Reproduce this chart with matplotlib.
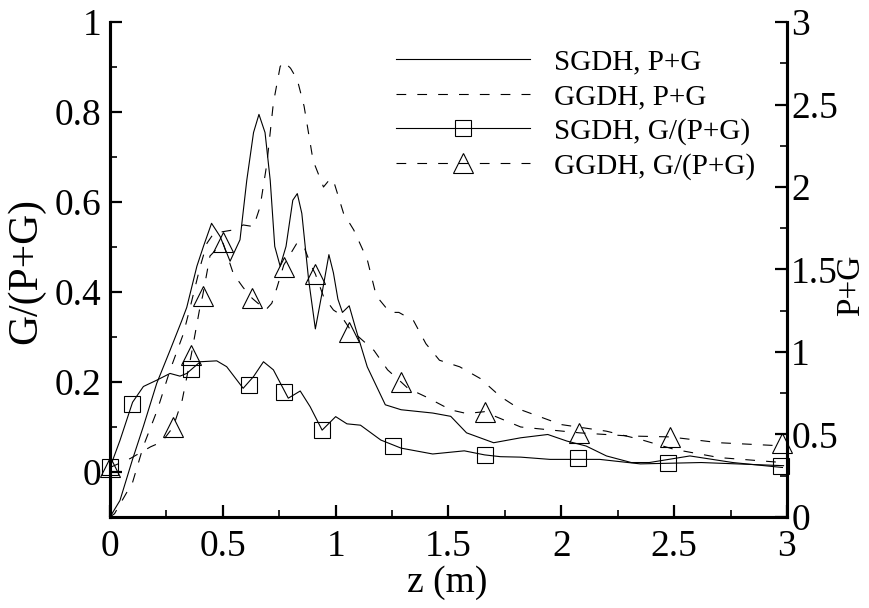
import matplotlib
matplotlib.use('Agg')
import matplotlib.pyplot as plt
from matplotlib.lines import Line2D

plt.rcParams['font.family'] = ['Liberation Serif', 'DejaVu Serif']
plt.rcParams['lines.scale_dashes'] = False

# SGDH, P+G (right axis)
z_sgdh_pg = [0, 0.044, 0.10, 0.148, 0.207, 0.266, 0.318, 0.34, 0.385, 0.414, 0.45, 0.488,
             0.532, 0.576, 0.606, 0.636, 0.66, 0.687, 0.71, 0.73, 0.754, 0.78, 0.81, 0.83,
             0.85, 0.88, 0.91, 0.94, 0.97, 0.99, 1.01, 1.03, 1.06, 1.087, 1.10, 1.14, 1.22,
             1.29, 1.43, 1.51, 1.58, 1.70, 1.82, 1.94, 2.025, 2.11, 2.20, 2.31, 2.39, 2.57,
             2.76, 2.98]
pg_sgdh = [0, 0.10, 0.35, 0.55, 0.81, 1.01, 1.19, 1.27, 1.52, 1.64, 1.78, 1.70,
           1.55, 1.68, 2.04, 2.33, 2.44, 2.33, 2.04, 1.64, 1.52, 1.64, 1.92, 1.96,
           1.84, 1.44, 1.14, 1.36, 1.59, 1.48, 1.32, 1.24, 1.28, 1.15, 1.09, 0.91, 0.68,
           0.65, 0.63, 0.61, 0.51, 0.45, 0.48, 0.50, 0.46, 0.43, 0.37, 0.33, 0.33, 0.37,
           0.33, 0.30]

# GGDH, P+G (right axis)
z_ggdh_pg = [0, 0.02, 0.10, 0.148, 0.21, 0.266, 0.325, 0.355, 0.40, 0.43, 0.46, 0.547,
             0.59, 0.636, 0.665, 0.695, 0.724, 0.754, 0.77, 0.80, 0.83, 0.86, 0.90, 0.946,
             0.976, 0.99, 1.035, 1.08, 1.14, 1.18, 1.24, 1.28, 1.345, 1.40, 1.46, 1.55,
             1.64, 1.73, 1.82, 2.0, 2.2, 2.35, 2.5, 2.7, 2.98]
pg_ggdh = [0, 0.02, 0.21, 0.43, 0.65, 0.89, 1.11, 1.27, 1.52, 1.66, 1.72, 1.74,
           1.77, 1.76, 1.88, 2.14, 2.51, 2.73, 2.76, 2.72, 2.65, 2.49, 2.16, 2.0,
           2.05, 2.04, 1.84, 1.74, 1.56, 1.34, 1.24, 1.24, 1.19, 1.05, 0.95, 0.91,
           0.84, 0.73, 0.65, 0.56, 0.52, 0.47, 0.41, 0.36, 0.33]

# SGDH, G/(P+G) (left axis)
z_sgdh_g = [0, 0.044, 0.10, 0.148, 0.207, 0.266, 0.31, 0.34, 0.40, 0.473, 0.517, 0.59,
            0.636, 0.68, 0.724, 0.79, 0.843, 0.887, 0.94, 1.0, 1.05, 1.11, 1.20, 1.29,
            1.43, 1.57, 1.66, 1.73, 1.82, 1.95, 2.17, 2.35, 2.62, 2.985]
g_sgdh = [0.01, 0.07, 0.155, 0.19, 0.204, 0.219, 0.213, 0.219, 0.245, 0.247, 0.234, 0.186,
          0.212, 0.245, 0.227, 0.164, 0.18, 0.145, 0.093, 0.123, 0.107, 0.104, 0.071, 0.053,
          0.04, 0.047, 0.038, 0.034, 0.033, 0.028, 0.028, 0.018, 0.021, 0.014]
z_sq = [0, 0.099, 0.36, 0.618, 0.77, 0.94, 1.254, 1.66, 2.075, 2.475, 2.975]
g_sq = [0.01, 0.150, 0.229, 0.193, 0.178, 0.093, 0.058, 0.038, 0.031, 0.02, 0.013]

# GGDH, G/(P+G) (left axis)
z_ggdh_g = [0, 0.09, 0.18, 0.23, 0.28, 0.32, 0.34, 0.36, 0.40, 0.41, 0.443, 0.50,
            0.547, 0.59, 0.63, 0.69, 0.717, 0.74, 0.77, 0.83, 0.86, 0.89, 0.91, 0.946,
            0.99, 1.02, 1.06, 1.08, 1.17, 1.23, 1.29, 1.32, 1.40, 1.51, 1.58, 1.66,
            1.71, 1.82, 2.08, 2.3, 2.48, 2.7, 2.98]
g_ggdh = [0.01, 0.03, 0.056, 0.067, 0.10, 0.16, 0.21, 0.26, 0.37, 0.39, 0.48, 0.51,
          0.44, 0.41, 0.386, 0.36, 0.375, 0.41, 0.46, 0.51, 0.50, 0.46, 0.44, 0.39,
          0.36, 0.35, 0.32, 0.31, 0.27, 0.227, 0.20, 0.186, 0.167, 0.138, 0.13, 0.134,
          0.123, 0.10, 0.087, 0.08, 0.078, 0.065, 0.058]
z_tri = [0, 0.28, 0.36, 0.41, 0.50, 0.63, 0.77, 0.91, 1.06, 1.29, 1.66, 2.08, 2.48, 2.98]
g_tri = [0.01, 0.10, 0.26, 0.39, 0.51, 0.386, 0.456, 0.44, 0.31, 0.20, 0.134, 0.086, 0.078, 0.064]

x_ticks = [0, 0.5, 1, 1.5, 2, 2.5, 3]
x_ticklabels = ['0', '0.5', '1', '1.5', '2', '2.5', '3']
left_ticks = [0, 0.2, 0.4, 0.6, 0.8, 1]
left_ticklabels = ['0', '0.2', '0.4', '0.6', '0.8', '1']
right_ticks = [0, 0.5, 1, 1.5, 2, 2.5, 3]
right_ticklabels = ['0', '0.5', '1', '1.5', '2', '2.5', '3']

DASH = (0, (7, 8))
LW = 0.8

fig = plt.figure(figsize=(8.69, 6.08), dpi=100)
ax = fig.add_axes([0.1266, 0.1497, 0.7790, 0.8141])
ax2 = ax.twinx()

# G/(P+G) lines with markers on left axis
ax.plot(z_sgdh_g, g_sgdh, color='black', lw=LW, ls='-')
ax.plot(z_sq, g_sq, ls='none', marker='s', ms=11, mfc='none', mec='black', mew=0.8,
        clip_on=False)
ax.plot(z_ggdh_g, g_ggdh, color='black', lw=LW, ls=DASH)
ax.plot(z_tri, g_tri, ls='none', marker='^', ms=14, mfc='none', mec='black', mew=0.8,
        clip_on=False)

# P+G lines on right axis
ax2.plot(z_sgdh_pg, pg_sgdh, color='black', lw=LW, ls='-')
ax2.plot(z_ggdh_pg, pg_ggdh, color='black', lw=LW, ls=DASH)

ax.set_xlim(0, 3)
ax.set_ylim(-0.1, 1)
ax2.set_ylim(0, 3)

ax.set_xticks(x_ticks)
ax.set_xticklabels(x_ticklabels)
ax.set_xticks([0.25, 0.75, 1.25, 1.75, 2.25, 2.75], minor=True)
ax.set_yticks(left_ticks)
ax.set_yticklabels(left_ticklabels)
ax.set_yticks([0.1, 0.3, 0.5, 0.7, 0.9], minor=True)
ax2.set_yticks(right_ticks)
ax2.set_yticklabels(right_ticklabels)
ax2.set_yticks([0.25, 0.75, 1.25, 1.75, 2.25, 2.75], minor=True)

for a in (ax, ax2):
    for s in a.spines.values():
        s.set_linewidth(2.2)
    a.spines['top'].set_visible(False)
    a.tick_params(which='major', direction='in', length=8.5, width=1.6, labelsize=27, pad=6)
    a.tick_params(which='minor', direction='in', length=5, width=1.2)

ax.tick_params(axis='y', which='both', right=False)
ax.tick_params(axis='x', which='both', top=False)
ax.tick_params(axis='x', which='major', pad=9)
ax2.tick_params(axis='y', which='both', left=False)
ax2.tick_params(axis='y', which='major', pad=3)

ax.set_xlabel('z (m)', fontsize=27)
ax.xaxis.set_label_coords(0.498, -0.097)
ax.set_ylabel('G/(P+G)', fontsize=30)
ax.yaxis.set_label_coords(-0.096, 0.497)
ax2.set_ylabel('P+G', fontsize=24)
ax2.yaxis.set_label_coords(1.072, 0.469)

handles = [
    Line2D([], [], color='black', lw=LW, ls='-'),
    Line2D([], [], color='black', lw=LW, ls=DASH),
    Line2D([], [], color='black', lw=LW, ls='-', marker='s', ms=11, mfc='none', mew=0.8),
    Line2D([], [], color='black', lw=LW, ls=DASH, marker='^', ms=14, mfc='none', mew=0.8),
]
labels = ['SGDH, P+G', 'GGDH, P+G', 'SGDH, G/(P+G)', 'GGDH, G/(P+G)']
ax2.legend(handles, labels, loc='upper left', bbox_to_anchor=(0.4225, 0.945),
           frameon=False, fontsize=21, handlelength=4.6, handletextpad=0.8,
           labelspacing=0.27, borderpad=0, borderaxespad=0, markerscale=1)

fig.savefig('out.png', dpi=100, facecolor='white')
